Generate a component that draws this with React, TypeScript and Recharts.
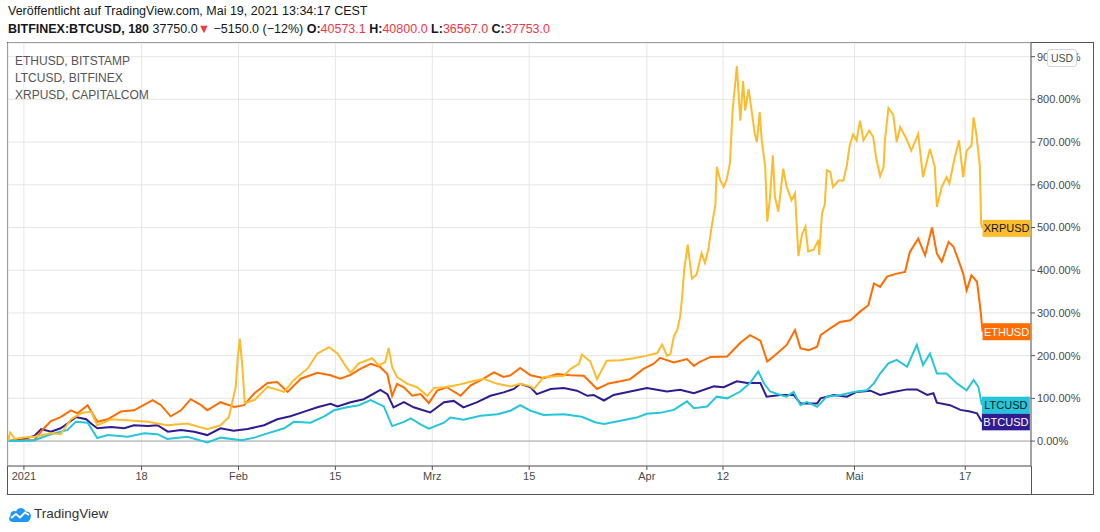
import { LineChart, Line, XAxis, YAxis, CartesianGrid, ReferenceLine } from "recharts";

// x = days since 1 Jan 2021, y = change in % since start
const tickDays = [0, 17, 31, 45, 59, 73, 90, 101, 120, 136];
const tickLabels = ["2021", "18", "Feb", "15", "Mrz", "15", "Apr", "12", "Mai", "17"];
const pctTicks = [0, 100, 200, 300, 400, 500, 600, 700, 800, 900];

const btcusd: [number, number][] = [
  [-2.3, 0], [-0.4, 3], [1.5, 12], [2.5, 28], [3.9, 22], [5.3, 30], [6.3, 41], [7.5, 56], [9.0, 51], [9.7, 41],
  [10.6, 30], [12.6, 33], [14.5, 30], [15.9, 37], [17.9, 35], [19.3, 37], [20.8, 22], [22.7, 26], [24.6, 22],
  [26.5, 14], [28.4, 30], [30.3, 24], [32.3, 28], [34.7, 37], [36.6, 51], [38.5, 58], [40.5, 69], [42.4, 79],
  [44.3, 87], [45.3, 81], [47.2, 91], [49.1, 98], [51.5, 120], [52.5, 110], [53.4, 79], [54.9, 91], [56.3, 79],
  [58.7, 67], [60.7, 91], [62.1, 94], [63.5, 79], [65.5, 91], [67.4, 106], [69.3, 114], [70.8, 122], [71.7, 134],
  [73.2, 126], [74.1, 110], [76.1, 122], [78.0, 124], [79.9, 118], [81.4, 106], [82.3, 108], [83.8, 95],
  [85.2, 108], [87.6, 116], [90.0, 124], [92.9, 116], [94.8, 120], [96.8, 112], [99.7, 128], [101.1, 126],
  [103.0, 140], [104.5, 136], [106.4, 136], [107.3, 104], [109.3, 108], [111.2, 108], [112.2, 88], [114.6, 88],
  [115.1, 100], [117.0, 108], [118.9, 104], [120.3, 115], [122.3, 118], [123.7, 108], [125.6, 115], [127.6, 121],
  [129.0, 121], [130.5, 108], [131.4, 112], [131.9, 90], [133.8, 84], [135.3, 73], [136.7, 69], [137.7, 65],
  [138.4, 45],
];

const ethusd: [number, number][] = [
  [-2.3, 0], [-0.4, 2], [1.5, 2], [2.9, 30], [3.9, 47], [5.3, 56], [6.8, 72], [7.75, 65], [9.2, 84], [10.6, 45],
  [12.1, 51], [14.0, 69], [15.9, 72], [18.6, 96], [19.8, 84], [21.2, 58], [22.7, 72], [24.1, 98], [25.6, 84],
  [26.5, 72], [28.4, 91], [30.4, 80], [31.8, 84], [33.3, 112], [35.2, 136], [36.6, 138], [38.1, 115], [40.0, 146],
  [42.4, 160], [44.3, 154], [45.7, 146], [47.2, 155], [48.6, 169], [50.1, 181], [51.5, 173], [52.5, 157],
  [53.2, 106], [53.9, 134], [54.9, 126], [56.1, 106], [57.3, 110], [58.5, 89], [59.7, 118], [61.1, 126],
  [63.1, 106], [64.5, 130], [66.4, 146], [67.9, 161], [69.3, 150], [70.3, 154], [71.7, 171], [73.2, 154],
  [75.1, 147], [77.0, 157], [79.0, 154], [80.9, 153], [82.8, 122], [84.5, 135], [86.2, 140], [87.6, 145],
  [89.5, 169], [91.0, 181], [91.9, 195], [93.9, 184], [95.8, 192], [96.8, 176], [97.6, 185], [99.2, 197],
  [101.6, 198], [103.5, 230], [104.9, 248], [106.4, 235], [107.4, 186], [108.8, 205], [110.2, 225], [111.4, 260],
  [112.2, 217], [113.4, 213], [114.6, 221], [115.1, 248], [116.5, 264], [117.9, 279], [119.4, 283], [120.8, 303],
  [122.0, 318], [122.8, 369], [123.7, 361], [124.7, 385], [126.1, 392], [127.3, 396], [128.0, 443], [129.2, 474],
  [130.2, 435], [131.2, 500], [131.9, 439], [132.6, 420], [133.6, 466], [134.3, 455], [135.0, 424], [135.7, 392],
  [136.2, 353], [136.9, 388], [137.7, 373], [138.2, 307], [138.5, 256],
];

const ltcusd: [number, number][] = [
  [-2.3, 0], [-0.4, 0], [1.5, 2], [3.9, 16], [6.3, 26], [7.5, 45], [9.2, 43], [10.6, 7], [12.1, 14], [15.0, 10],
  [17.4, 18], [19.3, 16], [20.7, 5], [23.6, 10], [26.5, -3], [28.4, 8], [31.5, 2], [33.3, 8], [35.2, 18],
  [37.6, 30], [39.0, 45], [41.4, 43], [43.4, 58], [44.8, 72], [46.7, 79], [48.4, 84], [50.1, 96], [52.0, 81],
  [53.2, 35], [54.9, 45], [55.9, 53], [57.3, 39], [58.5, 29], [60.7, 43], [61.6, 55], [63.5, 50], [66.0, 59],
  [68.4, 63], [70.3, 71], [71.7, 84], [73.2, 71], [75.1, 61], [78.0, 63], [80.6, 57], [82.5, 44], [83.8, 40],
  [86.0, 47], [88.5, 55], [90.0, 64], [91.9, 66], [93.9, 73], [95.8, 93], [96.8, 77], [98.7, 81], [100.1, 104],
  [101.6, 100], [103.5, 116], [104.9, 136], [106.1, 163], [106.9, 136], [107.8, 116], [109.3, 108], [110.2, 104],
  [111.2, 115], [112.2, 84], [113.1, 92], [114.6, 80], [116.0, 104], [118.0, 108], [119.9, 115], [121.8, 119],
  [122.8, 135], [123.7, 158], [124.9, 182], [126.1, 190], [127.6, 174], [129.0, 225], [129.9, 178], [130.9, 205],
  [131.9, 158], [133.3, 158], [134.8, 135], [136.2, 119], [137.2, 143], [137.9, 127], [138.4, 84],
];

const xrpusd: [number, number][] = [
  [-2.3, 0], [-2.0, 20], [-1.3, 5], [-0.4, 8], [1.5, 10], [3.9, 18], [5.3, 16], [6.8, 51], [8.2, 65], [9.7, 69],
  [10.6, 37], [12.6, 51], [15.0, 49], [17.9, 45], [20.7, 37], [23.6, 41], [26.5, 28], [28.4, 37], [29.6, 56],
  [30.1, 91], [30.6, 127], [30.9, 197], [31.2, 240], [31.6, 165], [31.9, 89], [33.3, 96], [35.2, 127], [37.6, 115],
  [39.0, 143], [41.0, 170], [42.4, 205], [44.1, 220], [45.3, 205], [46.5, 175], [47.2, 160], [48.4, 182],
  [50.3, 194], [51.3, 177], [52.2, 185], [52.7, 218], [53.2, 173], [53.9, 150], [55.4, 134], [56.8, 126],
  [58.3, 106], [59.2, 124], [60.7, 126], [62.6, 131], [64.5, 139], [66.4, 146], [68.4, 134], [70.3, 128],
  [71.7, 134], [73.2, 128], [73.7, 122], [75.1, 150], [78.0, 153], [79.0, 169], [80.2, 181], [80.6, 202],
  [81.8, 187], [82.8, 145], [84.2, 188], [86.2, 189], [88.1, 194], [90.0, 200], [91.5, 206], [92.2, 226],
  [92.9, 200], [93.4, 203], [93.9, 245], [94.4, 261], [94.8, 290], [95.1, 338], [95.4, 402], [95.9, 460],
  [96.5, 380], [97.2, 390], [97.9, 440], [98.4, 417], [98.9, 450], [99.4, 506], [99.9, 553], [100.1, 642],
  [100.6, 611], [101.1, 595], [101.5, 611], [102.0, 650], [102.4, 778], [102.8, 843], [103.0, 878], [103.2, 828],
  [103.5, 750], [103.9, 843], [104.2, 774], [104.7, 824], [105.2, 766], [105.6, 719], [105.9, 700], [106.3, 770],
  [106.6, 704], [107.1, 642], [107.4, 514], [107.8, 572], [108.2, 669], [108.5, 572], [109.0, 537], [109.7, 638],
  [110.2, 595], [110.9, 564], [111.4, 580], [111.9, 433], [112.4, 483], [112.9, 502], [113.3, 444], [114.1, 448],
  [114.8, 471], [114.9, 436], [115.3, 533], [115.7, 553], [116.0, 634], [116.5, 630], [116.9, 595], [117.7, 610],
  [118.4, 610], [118.9, 646], [119.3, 692], [119.8, 718], [120.3, 704], [120.8, 750], [121.3, 704], [122.1, 727],
  [122.7, 712], [123.1, 665], [123.7, 620], [124.2, 642], [124.4, 704], [124.9, 780], [125.6, 764], [126.1, 700],
  [126.6, 735], [127.5, 708], [128.2, 680], [129.2, 719], [129.9, 618], [130.9, 684], [131.6, 642], [131.9, 548],
  [132.6, 595], [133.3, 618], [133.7, 603], [134.5, 665], [135.1, 704], [135.7, 618], [136.2, 680], [136.9, 692],
  [137.2, 758], [137.6, 719], [138.1, 645], [138.3, 509], [138.5, 498],
];

const series = [
  { name: "BTCUSD", data: btcusd, color: "#311b92", text: "#ffffff" },
  { name: "ETHUSD", data: ethusd, color: "#ff6d00", text: "#ffffff" },
  { name: "LTCUSD", data: ltcusd, color: "#26c6da", text: "#131722" },
  { name: "XRPUSD", data: xrpusd, color: "#fbbc2e", text: "#131722" },
];

const FONT = "'Liberation Sans', Arial, sans-serif";
const RED = "#f23645";

const toPoints = (arr: [number, number][]) => arr.map(([day, pct]) => ({ day, pct }));

// price-scale badge at the last point of each series
const badge = (name: string, fill: string, textColor: string, last: number) => (props: any) => {
  if (props.index !== last) return null;
  const { x, y } = props;
  return (
    <g>
      <rect x={x} y={y - 8.5} width={48} height={17} fill={fill} />
      <text x={x + 24} y={y + 4} textAnchor="middle" fontSize={11} fontFamily={FONT} fill={textColor}>
        {name}
      </text>
    </g>
  );
};

function Logo() {
  return (
    <svg width={24} height={18} viewBox="0 0 24 18" style={{ position: "absolute", left: 8, top: 505 }}>
      <path d="M5 17 C1 17 0 13 2.5 11 C1.5 7 5.5 5 8 6.5 C9.5 2 16 1.5 17.5 6.5 C21.5 6 24 9.5 22.5 13 C22 15.5 20.5 17 18 17 Z" fill="#2196f3" />
      <polyline points="3,13 8,9 12,12.5 17,7.5 21,10" fill="none" stroke="#fff" strokeWidth={1.8} strokeLinejoin="round" />
    </svg>
  );
}

export default function App() {
  return (
    <div style={{ position: "absolute", left: 0, top: 0, width: 1100, height: 532, background: "#fff", fontFamily: FONT, color: "#131722" }}>
      <div style={{ position: "absolute", left: 8, top: 4, fontSize: 12.5, whiteSpace: "nowrap" }}>
        Veröffentlicht auf TradingView.com, Mai 19, 2021 13:34:17 CEST
      </div>
      <div style={{ position: "absolute", left: 8, top: 22, fontSize: 12.5, whiteSpace: "nowrap" }}>
        <b>BITFINEX:BTCUSD, 180</b> 37750.0<span style={{ color: RED }}>▼</span> −5150.0 (−12%) <b>O:</b>
        <span style={{ color: RED }}>40573.1</span> <b>H:</b><span style={{ color: RED }}>40800.0</span> <b>L:</b>
        <span style={{ color: RED }}>36567.0</span> <b>C:</b><span style={{ color: RED }}>37753.0</span>
      </div>

      <div style={{ position: "absolute", left: 7, top: 42, width: 1085, height: 451, border: "1px solid #555" }} />
      <div style={{ position: "absolute", left: 1031, top: 466, width: 1, height: 28, background: "#555" }} />

      <LineChart
        width={1100}
        height={532}
        margin={{ top: 43, right: 7, left: 8, bottom: 38 }}
        style={{ position: "absolute", left: 0, top: 0 }}
      >
        <CartesianGrid stroke="#e6e6e6" />
        <XAxis
          type="number"
          dataKey="day"
          domain={[-2.3, 145.5]}
          ticks={tickDays}
          tickFormatter={(d: number) => tickLabels[tickDays.indexOf(d)]}
          allowDataOverflow
          height={28}
          stroke="#555"
          tickSize={4}
          tick={{ fill: "#4a4a4a", fontSize: 11, fontFamily: FONT }}
        />
        <YAxis
          orientation="right"
          type="number"
          domain={[-58.4, 932]}
          ticks={pctTicks}
          tickFormatter={(v: number) => `${v.toFixed(2)}%`}
          allowDataOverflow
          width={62}
          stroke="#555"
          tickSize={4}
          tick={{ fill: "#4a4a4a", fontSize: 11, fontFamily: FONT, textAnchor: "start" }}
        />
        <ReferenceLine y={0} stroke="#a8a8a8" />
        {series.map((s) => (
          <Line
            key={s.name}
            data={toPoints(s.data)}
            dataKey="pct"
            type="linear"
            stroke={s.color}
            strokeWidth={2}
            dot={false}
            isAnimationActive={false}
            label={badge(s.name, s.color, s.text, s.data.length - 1)}
          />
        ))}
      </LineChart>

      <div style={{ position: "absolute", left: 15, top: 53, fontSize: 12, lineHeight: "17px", color: "#555" }}>
        ETHUSD, BITSTAMP
        <br />
        LTCUSD, BITFINEX
        <br />
        XRPUSD, CAPITALCOM
      </div>

      <div
        style={{
          position: "absolute", left: 1047, top: 49, width: 28, height: 16, border: "1px solid #d1d4dc",
          borderRadius: 3, background: "#fff", fontSize: 10.5, lineHeight: "16px", textAlign: "center", color: "#4a4a4a",
        }}
      >
        USD
      </div>

      <Logo />
      <div style={{ position: "absolute", left: 34, top: 506, fontSize: 13.5, color: "#333" }}>TradingView</div>
    </div>
  );
}
